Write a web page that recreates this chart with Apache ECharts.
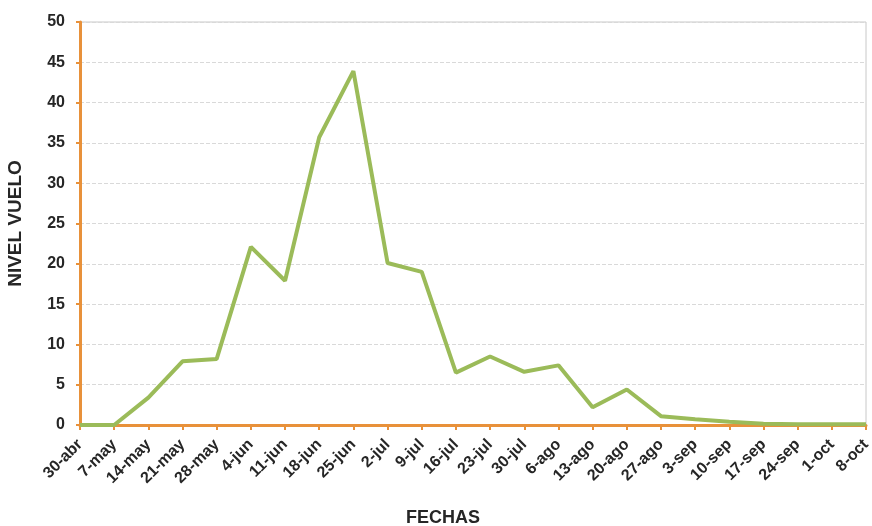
<!DOCTYPE html>
<html><head><meta charset="utf-8">
<script src="https://cdn.jsdelivr.net/npm/echarts@6/dist/echarts.min.js"></script>
<style>html,body{margin:0;padding:0;background:#fff}#c{width:872px;height:526px}</style>
</head><body><div id="c"></div>
<script>
const categories = ['30-abr','7-may','14-may','21-may','28-may','4-jun','11-jun','18-jun','25-jun','2-jul','9-jul','16-jul','23-jul','30-jul','6-ago','13-ago','20-ago','27-ago','3-sep','10-sep','17-sep','24-sep','1-oct','8-oct'];
const nivelVuelo = [0,0,3.4,7.9,8.2,22.1,17.9,35.7,43.9,20.1,19.0,6.5,8.5,6.6,7.4,2.2,4.4,1.1,0.7,0.4,0.15,0.1,0.1,0.1];
const yTicks = {min:0, max:50, interval:5};

const chart = echarts.init(document.getElementById('c'));
chart.setOption({
  animation:false,
  backgroundColor:'#fff',
  grid:{left:80, right:6, top:22, bottom:101, show:true, borderColor:'#c8c8c8', borderWidth:1, containLabel:false, outerBoundsMode:'none'},
  xAxis:{
    type:'category', data:categories, boundaryGap:false,
    name:'FECHAS', nameLocation:'middle', nameGap:84,
    nameTextStyle:{fontFamily:'Liberation Sans', fontWeight:'bold', fontSize:18, color:'#262626', padding:[0,60,0,0]},
    axisLine:{lineStyle:{color:'#E8913A', width:3}},
    axisTick:{show:true, length:5, alignWithLabel:true, lineStyle:{color:'#E8913A', width:2}},
    axisLabel:{rotate:45, interval:0, margin:17, fontFamily:'Liberation Sans', fontWeight:'bold', fontSize:16, color:'#262626'},
    splitLine:{show:false}
  },
  yAxis:{
    type:'value', min:yTicks.min, max:yTicks.max, interval:yTicks.interval,
    name:'NIVEL VUELO', nameLocation:'middle', nameGap:55, nameRotate:90,
    nameTextStyle:{fontFamily:'Liberation Sans', fontWeight:'bold', fontSize:19, color:'#262626'},
    axisLine:{show:true, lineStyle:{color:'#E8913A', width:3}},
    axisTick:{show:true, length:4, lineStyle:{color:'#E8913A', width:2}},
    axisLabel:{margin:15, fontFamily:'Liberation Sans', fontWeight:'bold', fontSize:16, color:'#262626'},
    splitLine:{show:true, lineStyle:{color:'#d9d9d9', type:'dashed', width:1}}
  },
  series:[{
    type:'line', data:nivelVuelo, symbol:'none',
    lineStyle:{color:'#9BBB59', width:4}, z:5
  }]
});
</script></body></html>
